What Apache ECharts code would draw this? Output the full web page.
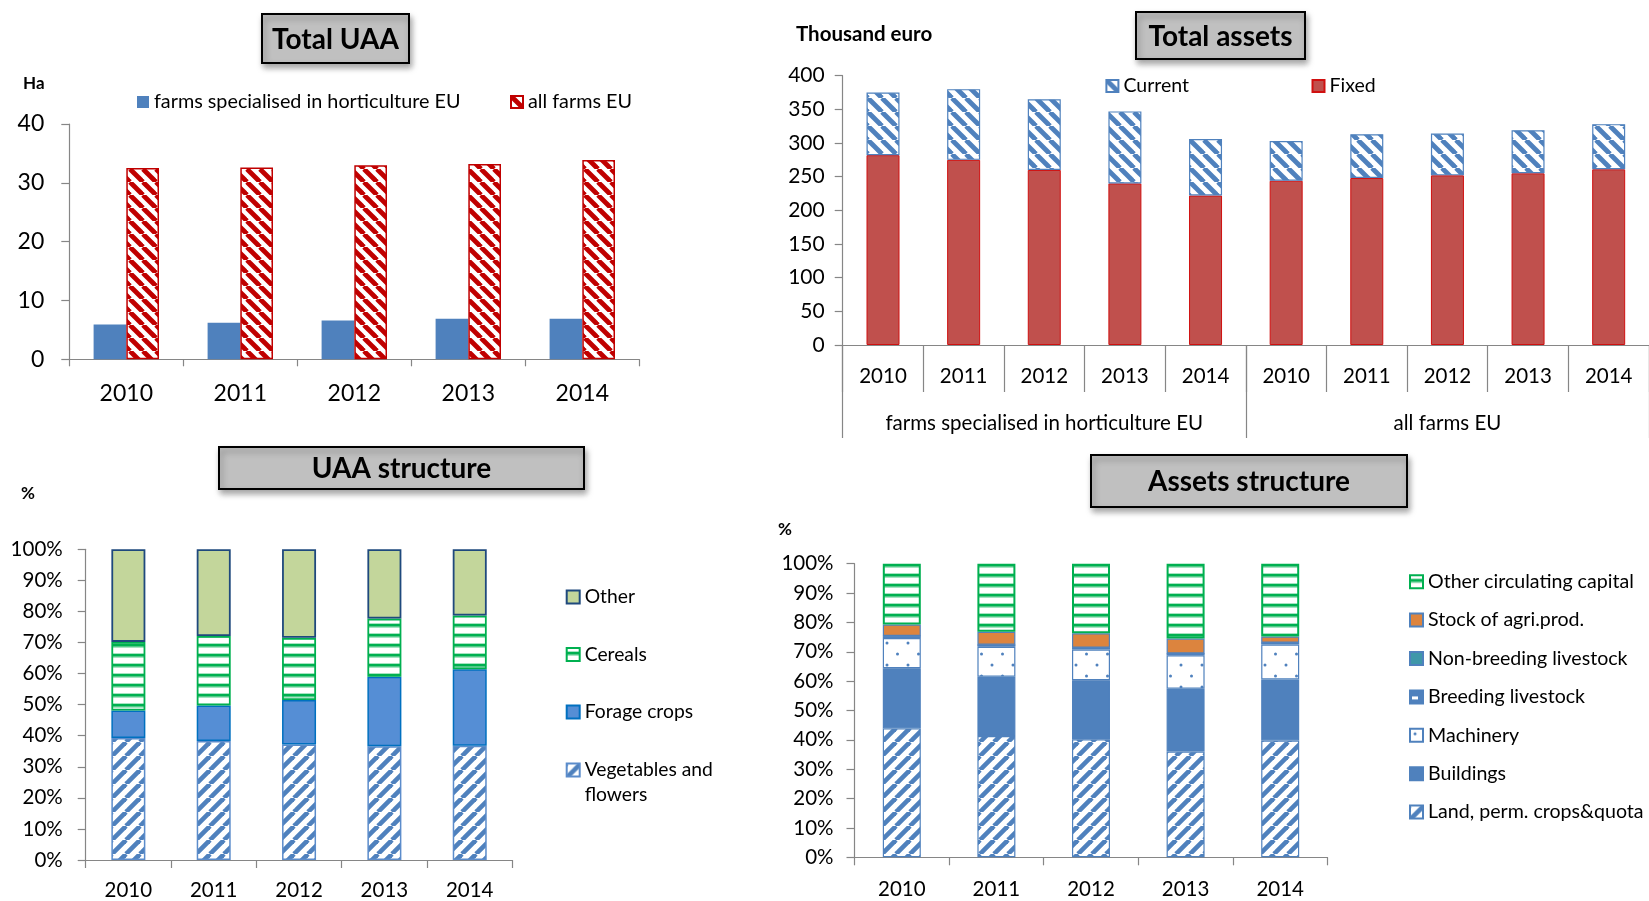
<!DOCTYPE html>
<html>
<head>
<meta charset="utf-8">
<title>Farm structure – horticulture vs all farms EU</title>
<script src="https://cdn.jsdelivr.net/npm/echarts@6/dist/echarts.min.js"></script>
<style>
  html, body { margin: 0; padding: 0; background: #fff; }
  #chart { width: 1649px; height: 901px; }
</style>
</head>
<body>
<div id="chart"></div>
<script>
// ---- data ----
const years = ['2010', '2011', '2012', '2013', '2014'];
const groups = ['farms specialised in horticulture EU', 'all farms EU'];
const assetYears = years.concat(years);

// Total UAA (ha per farm)
const uaaHorti = [5.9, 6.2, 6.6, 6.9, 6.9];
const uaaAll = [32.5, 32.6, 33.0, 33.2, 33.9];

// Total assets (thousand euro), horticulture 2010-2014 then all farms 2010-2014
const assetsFixed = [282, 275, 260, 240, 222, 244, 248, 252, 255, 261];
const assetsCurrent = [93, 105, 105, 107, 84, 59, 65, 62, 64, 67];

// UAA structure (%)
const uaaVeg = [39.3, 38.3, 37.2, 36.6, 36.8];
const uaaForage = [8.8, 11.4, 14.3, 22.4, 24.6];
const uaaCereals = [22.1, 22.4, 20.0, 18.7, 17.3];
const uaaOther = [29.8, 27.9, 28.5, 22.3, 21.3];

// Assets structure (%)
const asLand = [43.9, 41.3, 40.2, 36.0, 39.8];
const asBuildings = [20.5, 20.2, 20.1, 21.4, 20.8];
const asMachinery = [10.3, 10.2, 10.5, 11.4, 11.9];
const asBreeding = [0.6, 0.6, 0.5, 0.5, 0.5];
const asNonBreeding = [0.1, 0.1, 0.1, 0.1, 0.1];
const asStock = [3.9, 4.4, 4.9, 5.1, 2.1];
const asOtherCirc = [20.7, 23.2, 23.7, 25.5, 24.8];

// ---- fill patterns ----
function tile(w, h, draw) {
  const c = document.createElement('canvas');
  c.width = w; c.height = h;
  const g = c.getContext('2d');
  g.fillStyle = '#fff';
  g.fillRect(0, 0, w, h);
  draw(g);
  return { image: c, repeat: 'repeat' };
}
function diagonal(color, dir, s, lw) {
  return tile(s, s, g => {
    g.strokeStyle = color;
    g.lineWidth = lw;
    for (let k = -1; k <= 1; k++) {
      g.beginPath();
      if (dir === 'down') { g.moveTo(k * s, 0); g.lineTo(k * s + s, s); }
      else { g.moveTo(k * s, s); g.lineTo(k * s + s, 0); }
      g.stroke();
    }
  });
}
function hLines(color) {
  return tile(4, 10.5, g => {
    g.fillStyle = 'rgba(0,176,80,0.35)';
    g.fillRect(0, 3, 4, 5);
    g.fillStyle = color;
    g.fillRect(0, 4, 4, 2.5);
  });
}
function dots(color) {
  return tile(21, 22, g => {
    g.fillStyle = color;
    [[5, 5], [15.5, 16]].forEach(p => {
      g.beginPath(); g.arc(p[0], p[1], 1.5, 0, Math.PI * 2); g.fill();
    });
  });
}
function smallBox(color) {
  return tile(12, 12, g => {
    g.fillStyle = color; g.fillRect(0, 0, 12, 12);
    g.fillStyle = '#fff'; g.fillRect(2, 6, 6, 3);
  });
}

const BLUE = '#4f81bd';
const RED = '#c00000';
const GREEN = '#00b050';
const AX = '#868686';
const FONT = 'Lato';

// ---- axes helpers ----
function yAx(grid, max, interval, fs, margin, fmt) {
  return {
    type: 'value', gridIndex: grid, min: 0, max: max, interval: interval,
    axisLine: { show: true, lineStyle: { color: AX, width: 1.2 } },
    axisTick: { show: true, length: 8, lineStyle: { color: AX, width: 1.2 } },
    splitLine: { show: false },
    axisLabel: { fontSize: fs, color: '#000', margin: margin, fontFamily: FONT, formatter: fmt || '{value}' }
  };
}
function xAx(grid, data, fs, margin, tickLen, showLine) {
  return {
    type: 'category', gridIndex: grid, data: data, position: 'bottom',
    axisLine: { show: showLine !== false, lineStyle: { color: AX, width: 1.2 } },
    axisTick: { show: true, interval: 0, length: tickLen, lineStyle: { color: AX, width: 1.2 } },
    axisLabel: { fontSize: fs, color: '#000', margin: margin, interval: 0, fontFamily: FONT }
  };
}
function legend(names, left, top, gap, fs, lh, size, formatter) {
  const l = {
    data: names, left: left, top: top, orient: 'vertical', padding: 0,
    itemGap: gap, itemWidth: size, itemHeight: size, icon: 'rect',
    selectedMode: false,
    textStyle: { fontSize: fs, lineHeight: lh, color: '#000', fontFamily: FONT }
  };
  if (formatter) l.formatter = formatter;
  return l;
}
function titleBox(x, y, w, h, text, fs) {
  return {
    type: 'group', children: [
      { type: 'rect', shape: { x: x, y: y, width: w, height: h },
        style: { fill: '#c0c0c0', stroke: '#000', lineWidth: 2,
                 shadowBlur: 6, shadowOffsetX: 2, shadowOffsetY: 4, shadowColor: 'rgba(0,0,0,0.35)' } },
      { type: 'text', x: x + w / 2, y: y + h / 2 + 1,
        style: { text: text, fill: '#000', fontSize: fs, fontWeight: 'bold', fontFamily: FONT,
                 align: 'center', verticalAlign: 'middle' } }
    ]
  };
}
function unitLabel(x, y, text, fs) {
  return { type: 'text', x: x, y: y,
    style: { text: text, fill: '#000', fontSize: fs, fontWeight: 'bold', fontFamily: FONT, verticalAlign: 'middle' } };
}

const option = {
  animation: false,
  textStyle: { fontFamily: FONT },
  grid: [
    { left: 69.3, top: 124, width: 570, height: 235.3 },
    { left: 842.7, top: 75.7, width: 810, height: 269.3 },
    { left: 85.7, top: 549.3, width: 426.7, height: 313.4 },
    { left: 854.5, top: 563.7, width: 473, height: 293.6 }
  ],
  xAxis: [
    xAx(0, years, 23, 23, 7),
    xAx(1, assetYears, 20.5, 21, 47),
    xAx(1, groups, 20.5, 68, 93, false),
    xAx(2, years, 20.5, 20, 8),
    xAx(3, years, 20.5, 22, 8)
  ],
  yAxis: [
    yAx(0, 40, 10, 23, 25),
    yAx(1, 400, 50, 21, 18),
    yAx(2, 100, 10, 20.5, 23, '{value}%'),
    yAx(3, 100, 10, 20.5, 21, '{value}%')
  ],
  legend: [
    legend([groups[0]], 137, 91, 0, 19.8, 22, 12),
    legend(['all farms EU'], 510, 91, 0, 19.8, 22, 12),
    legend(['Current'], 1105.4, 75, 0, 19.5, 22, 12),
    legend(['Fixed'], 1311.5, 75, 0, 19.5, 22, 12),
    legend(['Other', 'Cereals', 'Forage crops'], 565.7, 586, 35.5, 19.3, 22, 13),
    legend(['Vegetables and flowers'], 565.7, 732.5, 0, 19.3, 25, 13,
      () => '\nVegetables and\nflowers'),
    legend(['Other circulating capital', 'Stock of agri.prod.', 'Non-breeding livestock',
            'Breeding livestock', 'Machinery', 'Buildings', 'Land, perm. crops&quota'],
           1409, 570.7, 16.4, 19.6, 22, 13)
  ],
  series: [
    // Total UAA
    { name: groups[0], type: 'bar', xAxisIndex: 0, yAxisIndex: 0, data: uaaHorti,
      barWidth: 32.7, barGap: '0%', itemStyle: { color: BLUE } },
    { name: 'all farms EU', type: 'bar', xAxisIndex: 0, yAxisIndex: 0, data: uaaAll,
      barWidth: 32.7, barGap: '0%',
      itemStyle: { color: diagonal(RED, 'down', 13, 4.8), borderColor: RED, borderWidth: 1.5 } },

    // Total assets
    { name: 'Fixed', type: 'bar', stack: 'assets', xAxisIndex: 1, yAxisIndex: 1, data: assetsFixed,
      barWidth: 33, itemStyle: { color: '#c0504d', borderColor: '#d01010', borderWidth: 1 } },
    { name: 'Current', type: 'bar', stack: 'assets', xAxisIndex: 1, yAxisIndex: 1, data: assetsCurrent,
      barWidth: 33, itemStyle: { color: diagonal(BLUE, 'down', 14, 4.8), borderColor: BLUE, borderWidth: 1.2 } },

    // UAA structure
    { name: 'Vegetables and flowers', type: 'bar', stack: 'uaa', xAxisIndex: 3, yAxisIndex: 2, data: uaaVeg,
      barWidth: 34, itemStyle: { color: diagonal(BLUE, 'up', 14, 4.6), borderColor: '#5b8ccb', borderWidth: 1.5 } },
    { name: 'Forage crops', type: 'bar', stack: 'uaa', xAxisIndex: 3, yAxisIndex: 2, data: uaaForage,
      barWidth: 34, itemStyle: { color: '#558ed5', borderColor: '#0070c0', borderWidth: 1.5 } },
    { name: 'Cereals', type: 'bar', stack: 'uaa', xAxisIndex: 3, yAxisIndex: 2, data: uaaCereals,
      barWidth: 34, itemStyle: { color: hLines(GREEN), borderColor: GREEN, borderWidth: 1.8 } },
    { name: 'Other', type: 'bar', stack: 'uaa', xAxisIndex: 3, yAxisIndex: 2, data: uaaOther,
      barWidth: 34, itemStyle: { color: '#c3d69b', borderColor: '#1f497d', borderWidth: 1.8 } },

    // Assets structure
    { name: 'Land, perm. crops&quota', type: 'bar', stack: 'as', xAxisIndex: 4, yAxisIndex: 3, data: asLand,
      barWidth: 38, itemStyle: { color: diagonal(BLUE, 'up', 14, 4.6), borderColor: BLUE, borderWidth: 1.2 } },
    { name: 'Buildings', type: 'bar', stack: 'as', xAxisIndex: 4, yAxisIndex: 3, data: asBuildings,
      barWidth: 38, itemStyle: { color: BLUE, borderColor: BLUE, borderWidth: 1.2 } },
    { name: 'Machinery', type: 'bar', stack: 'as', xAxisIndex: 4, yAxisIndex: 3, data: asMachinery,
      barWidth: 38, itemStyle: { color: dots(BLUE), borderColor: BLUE, borderWidth: 1.2 } },
    { name: 'Breeding livestock', type: 'bar', stack: 'as', xAxisIndex: 4, yAxisIndex: 3, data: asBreeding,
      barWidth: 38, itemStyle: { color: smallBox(BLUE), borderColor: BLUE, borderWidth: 1.2 } },
    { name: 'Non-breeding livestock', type: 'bar', stack: 'as', xAxisIndex: 4, yAxisIndex: 3, data: asNonBreeding,
      barWidth: 38, itemStyle: { color: '#3f97a9', borderColor: BLUE, borderWidth: 1 } },
    { name: 'Stock of agri.prod.', type: 'bar', stack: 'as', xAxisIndex: 4, yAxisIndex: 3, data: asStock,
      barWidth: 38, itemStyle: { color: '#dc843e', borderColor: BLUE, borderWidth: 1.2 } },
    { name: 'Other circulating capital', type: 'bar', stack: 'as', xAxisIndex: 4, yAxisIndex: 3, data: asOtherCirc,
      barWidth: 38, itemStyle: { color: hLines(GREEN), borderColor: GREEN, borderWidth: 2 } }
  ],
  graphic: [
    titleBox(262, 14, 147, 49, 'Total UAA', 28),
    titleBox(1136, 12, 169, 47, 'Total assets', 28),
    titleBox(219, 447, 365, 42, 'UAA structure', 28),
    titleBox(1091, 455, 316, 52, 'Assets structure', 28),
    unitLabel(23, 84, 'Ha', 17),
    unitLabel(796, 34, 'Thousand euro', 20.5),
    unitLabel(21, 494, '%', 17),
    unitLabel(778, 530, '%', 17)
  ]
};

const chart = echarts.init(document.getElementById('chart'), null, { renderer: 'canvas' });
chart.setOption(option);
</script>
</body>
</html>
